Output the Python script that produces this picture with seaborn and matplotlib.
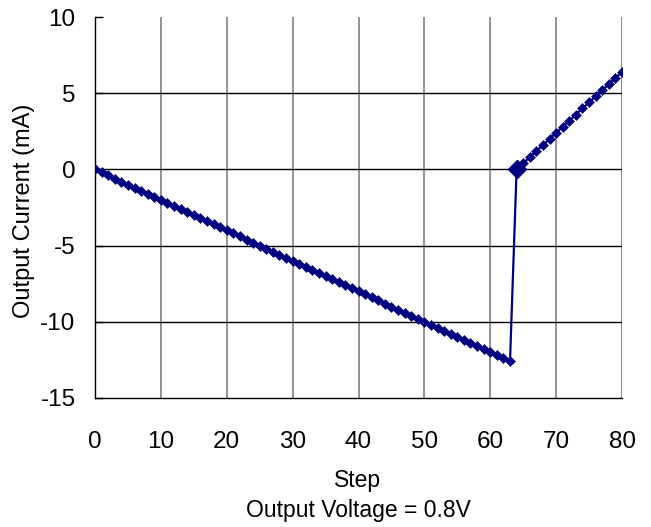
import matplotlib
matplotlib.use("Agg")
import matplotlib.pyplot as plt
import seaborn as sns
import pandas as pd

# Output current per step: falling ramp, then reset and rising ramp
steps_down = list(range(0, 64))
current_down = [0.0, -0.2, -0.4, -0.6, -0.8, -1.0, -1.2, -1.4, -1.6, -1.8,
                -2.0, -2.2, -2.4, -2.6, -2.8, -3.0, -3.2, -3.4, -3.6, -3.8,
                -4.0, -4.2, -4.4, -4.6, -4.8, -5.0, -5.2, -5.4, -5.6, -5.8,
                -6.0, -6.2, -6.4, -6.6, -6.8, -7.0, -7.2, -7.4, -7.6, -7.8,
                -8.0, -8.2, -8.4, -8.6, -8.8, -9.0, -9.2, -9.4, -9.6, -9.8,
                -10.0, -10.2, -10.4, -10.6, -10.8, -11.0, -11.2, -11.4, -11.6, -11.8,
                -12.0, -12.2, -12.4, -12.6]
steps_up = list(range(64, 81))
current_up = [0.0, 0.4, 0.8, 1.2, 1.6, 2.0, 2.4, 2.8, 3.2, 3.6,
              4.0, 4.4, 4.8, 5.2, 5.6, 6.0, 6.4]

x_ticks = [0, 10, 20, 30, 40, 50, 60, 70, 80]
y_ticks = [-15, -10, -5, 0, 5, 10]

sns.set_theme(style="white")
plt.rcParams["font.family"] = ["Liberation Sans", "DejaVu Sans"]
plt.rcParams["text.color"] = "black"

df = pd.DataFrame({"Step": steps_down + steps_up,
                   "Current": current_down + current_up})

fig = plt.figure(figsize=(6.51, 5.27), dpi=100)
ax = fig.add_axes([95 / 651, 1 - 398 / 527, (622 - 95) / 651, (398 - 17) / 527])

# grid lines
for xv in x_ticks[1:]:
    ax.axvline(xv, color="#808080", lw=1.2 if xv < 80 else 2.0, zorder=0)
for yv in y_ticks[1:-1]:
    ax.axhline(yv, color="#000000", lw=1.0, zorder=0)

navy = "#000080"
sns.lineplot(data=df, x="Step", y="Current", ax=ax, color=navy, lw=1.6,
             marker="D", markersize=5.5, markeredgecolor=navy,
             markeredgewidth=0.4, markerfacecolor=navy,
             estimator=None, sort=False, zorder=3)
ax.plot([steps_up[0]], [current_up[0]], marker="D", markersize=9,
        color=navy, zorder=4)

ax.set_xlim(0, 80)
ax.set_ylim(-15, 10)
ax.set_xticks(x_ticks)
ax.set_yticks(y_ticks)
ax.set_xticklabels([str(v) for v in x_ticks], fontsize=17.5)
ax.set_yticklabels([str(v) for v in y_ticks], fontsize=17.5)
ax.tick_params(axis="x", direction="in", length=0, pad=24, colors="black")
ax.tick_params(axis="y", direction="in", length=6, width=1, pad=14,
               colors="black", left=True)
ax.set_xlabel("")
ax.set_ylabel("")

for side in ["top", "right"]:
    ax.spines[side].set_visible(False)
for side in ["left", "bottom"]:
    ax.spines[side].set_color("black")
    ax.spines[side].set_linewidth(1.0)
ax.set_facecolor("white")

fig.text(358 / 651, 1 - 481 / 527, "Step", ha="center", va="center",
         fontsize=16.5, color="black")
fig.text(358 / 651, 1 - 510 / 527, "Output Voltage = 0.8V", ha="center",
         va="center", fontsize=16.5, color="black")
fig.text(24 / 651, 1 - 211 / 527, "Output Current (mA)", ha="center",
         va="center", rotation=90, fontsize=17, color="black")

fig.savefig("out.png", dpi=100, facecolor="white")
